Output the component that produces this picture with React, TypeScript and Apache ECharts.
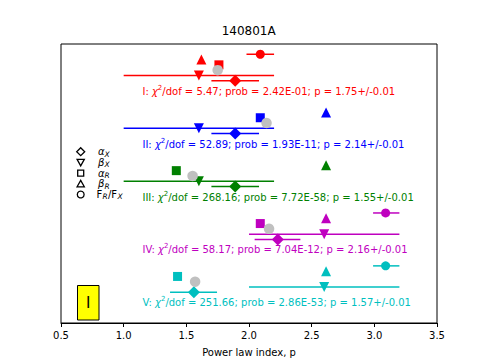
import React, { useEffect, useRef } from "react";
import * as echarts from "echarts";

const FONT = "DejaVu Sans";

const groups = ["I", "II", "III", "IV", "V"];
const colors = ["#ff0000", "#0000ff", "#008000", "#bf00bf", "#00bfbf"];
const alphaX = [1.89, 1.89, 1.89, 2.23, 1.56];
const alphaXLo = [1.7, 1.7, 1.7, 2.045, 1.37];
const alphaXHi = [2.08, 2.08, 2.08, 2.41, 1.745];
const betaX = [1.6, 1.6, 1.6, 2.6, 2.6];
const betaXLo = [1.0, 1.0, 1.0, 2.0, 2.0];
const betaXHi = [2.2, 2.2, 2.2, 3.2, 3.2];
const alphaR = [1.76, 2.09, 1.42, 2.09, 1.43];
const betaR = [1.62, 2.615, 2.615, 2.615, 2.615];
const fluxRatio: (number | null)[] = [2.09, null, null, 3.09, 3.09];
const fluxLo: (number | null)[] = [1.98, null, null, 2.99, 2.99];
const fluxHi: (number | null)[] = [2.2, null, null, 3.2, 3.2];
const fitP = [1.75, 2.14, 1.55, 2.16, 1.57];
const fitPErr = ["0.01", "0.01", "0.01", "0.01", "0.01"];
const chi2 = ["5.47", "52.89", "268.16", "58.17", "251.66"];
const prob = ["2.42E-01", "1.93E-11", "7.72E-58", "7.04E-12", "2.86E-53"];
const xTicks = [0.5, 1.0, 1.5, 2.0, 2.5, 3.0, 3.5];

// legend entries: [text, italic, subscript, x] pieces
const legendPieces: [string, boolean, boolean, number][][] = [
  [["α", true, false, 98], ["X", true, true, 104.5]],
  [["β", true, false, 98], ["X", true, true, 104.5]],
  [["α", true, false, 98], ["R", true, true, 104.5]],
  [["β", true, false, 98], ["R", true, true, 104.5]],
  [["F", false, false, 96.5], ["R", true, true, 102.5], ["/F", false, false, 108], ["X", true, true, 117.5]],
];

// row offsets inside each group (layout)
const OFF = { circle: -0.5, triUp: -0.4, square: -0.3, grey: -0.2, triDown: -0.1, diamond: 0, text: 0.2 };
const TEXT_X = 1.146;

function markerSeries(name: string, values: (number | null)[], offset: number, symbol: string, size: number, rotate = 0, colorOverride?: string, z = 3) {
  const data: any[] = [];
  values.forEach((v, g) => {
    if (v == null) return;
    data.push({ value: [v, g + offset], itemStyle: { color: colorOverride ?? colors[g], opacity: 1 } });
  });
  return { type: "scatter", name, symbol, symbolSize: size, symbolRotate: rotate, itemStyle: { opacity: 1 }, data, z, silent: true };
}

export default function App() {
  const ref = useRef<HTMLDivElement>(null);
  useEffect(() => {
    document.body.style.margin = "0";
    const chart = echarts.init(ref.current!, null, { renderer: "svg" });

    const errData: any[] = [];
    groups.forEach((_, g) => {
      errData.push([alphaXLo[g], alphaXHi[g], g + OFF.diamond, g]);
      errData.push([betaXLo[g], betaXHi[g], g + OFF.triDown, g]);
      if (fluxRatio[g] != null) errData.push([fluxLo[g], fluxHi[g], g + OFF.circle, g]);
    });

    const textData = groups.map((name, g) => ({
      value: [TEXT_X, g + OFF.text],
      label: {
        show: true,
        position: "right",
        distance: 0,
        formatter: () =>
          `{t|${name}: }{i|χ}{sup|2}{t|/dof = ${chi2[g]}; prob = ${prob[g]}; p = ${fitP[g].toFixed(2)}+/-${fitPErr[g]}}`,
        color: colors[g],
        rich: {
          t: { fontSize: 10, fontFamily: FONT, color: colors[g], lineHeight: 14, verticalAlign: "middle" },
          i: { fontSize: 10, fontFamily: FONT, fontStyle: "italic", color: colors[g], lineHeight: 14, verticalAlign: "middle" },
          sup: { fontSize: 7, fontFamily: FONT, color: colors[g], lineHeight: 14, verticalAlign: "top" },
        },
      },
    }));

    const rows = [151.7, 162.4, 173.1, 183.8, 194.5];
    const mx = 80.7;
    const open = { fill: "#fff", stroke: "#000", lineWidth: 1.3 };
    const legendTexts: any[] = [];
    legendPieces.forEach((pieces, i) => {
      pieces.forEach(([txt, italic, sub, x]) => {
        const fs = sub ? 7.5 : 10;
        legendTexts.push({
          type: "text",
          x,
          y: rows[i] + (sub ? 2.3 : 0),
          style: {
            text: txt,
            fontSize: fs,
            fontFamily: FONT,
            fontStyle: italic ? "italic" : "normal",
            fill: "#000",
            align: "left",
            verticalAlign: "middle",
            lineHeight: sub ? 7 : 9,
          },
        });
      });
    });

    const graphic: any[] = [
      { type: "text", x: 248.7, y: 31, style: { text: "140801A", fontSize: 12, fontFamily: FONT, fill: "#000", align: "center", verticalAlign: "middle" } },
      { type: "polygon", shape: { points: [[mx, rows[0] - 4], [mx + 4, rows[0]], [mx, rows[0] + 4], [mx - 4, rows[0]]] }, style: open },
      { type: "polygon", shape: { points: [[mx - 3.6, rows[1] - 3], [mx + 3.6, rows[1] - 3], [mx, rows[1] + 3.4]] }, style: open },
      { type: "rect", shape: { x: mx - 3, y: rows[2] - 3, width: 6, height: 6 }, style: open },
      { type: "polygon", shape: { points: [[mx, rows[3] - 3.4], [mx + 3.6, rows[3] + 3], [mx - 3.6, rows[3] + 3]] }, style: open },
      { type: "circle", shape: { cx: mx, cy: rows[4], r: 3.4 }, style: open },
      ...legendTexts,
      { type: "rect", shape: { x: 77.5, y: 285.5, width: 21.5, height: 34.5 }, style: { fill: "#ffff00", stroke: "#000", lineWidth: 1 } },
      { type: "text", x: 88.2, y: 302.8, style: { text: "I", fontSize: 15, fontFamily: FONT, fill: "#000", align: "center", verticalAlign: "middle" } },
    ];

    const option: any = {
      animation: false,
      backgroundColor: "#fff",
      grid: { left: 61, right: 48, top: 44, bottom: 41, show: true, borderColor: "#000", borderWidth: 1, backgroundColor: "transparent" },
      xAxis: {
        type: "value",
        min: xTicks[0],
        max: xTicks[xTicks.length - 1],
        interval: 0.5,
        name: "Power law index, p",
        nameLocation: "middle",
        nameGap: 24,
        nameTextStyle: { fontSize: 10, fontFamily: FONT, color: "#000" },
        axisLine: { show: true, onZero: false, lineStyle: { color: "#000", width: 1 } },
        axisTick: { show: true, length: 4, lineStyle: { color: "#000" } },
        axisLabel: { fontSize: 10, fontFamily: FONT, color: "#000", margin: 7, formatter: (v: number) => v.toFixed(1) },
        splitLine: { show: false },
      },
      yAxis: {
        type: "value",
        min: -0.694,
        max: 4.58,
        inverse: true,
        show: false,
        splitLine: { show: false },
      },
      series: [
        {
          type: "custom",
          silent: true,
          z: 2,
          encode: { x: [0, 1], y: 2 },
          data: errData,
          renderItem: (params: any, api: any) => {
            const a = api.coord([api.value(0), api.value(2)]);
            const b = api.coord([api.value(1), api.value(2)]);
            return {
              type: "line",
              shape: { x1: a[0], y1: a[1], x2: b[0], y2: b[1] },
              style: { stroke: colors[api.value(3)], lineWidth: 1.5 },
            };
          },
        },
        markerSeries("F_R/F_X", fluxRatio, OFF.circle, "circle", 9),
        markerSeries("beta_R", betaR, OFF.triUp, "triangle", 10),
        markerSeries("alpha_R", alphaR, OFF.square, "rect", 9),
        markerSeries("fit p", fitP, OFF.grey, "circle", 10.5, 0, "#c0c0c0", 4),
        markerSeries("beta_X", betaX, OFF.triDown, "triangle", 10, 180),
        markerSeries("alpha_X", alphaX, OFF.diamond, "diamond", 12),
        {
          type: "scatter",
          silent: true,
          symbolSize: 1,
          itemStyle: { color: "transparent", opacity: 1 },
          data: textData,
          z: 5,
        },
      ],
      graphic,
    };
    chart.setOption(option);
    return () => chart.dispose();
  }, []);
  return <div ref={ref} style={{ width: 485, height: 364 }} />;
}
